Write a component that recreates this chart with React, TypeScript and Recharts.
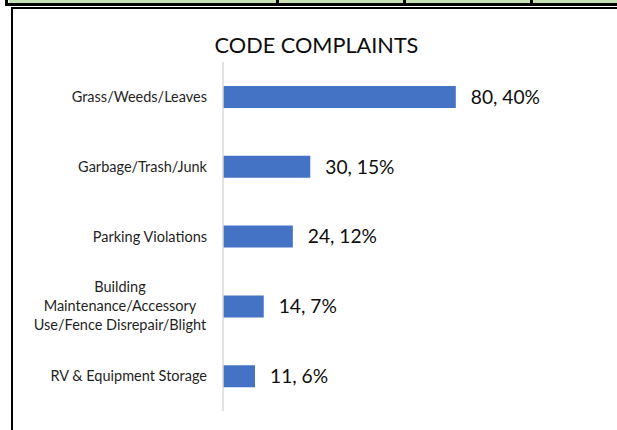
import React from 'react';
import { BarChart, Bar, XAxis, YAxis, LabelList } from 'recharts';

const categories = [
  'Grass/Weeds/Leaves',
  'Garbage/Trash/Junk',
  'Parking Violations',
  'Building\nMaintenance/Accessory\nUse/Fence Disrepair/Blight',
  'RV & Equipment Storage',
];
const counts = [80, 30, 24, 14, 11];
const percents = [40, 15, 12, 7, 6];

const data = categories.map((c, i) => ({ name: c, count: counts[i], pct: percents[i] }));

const FONT = 'Lato, "Open Sans", sans-serif';

const CategoryTick = (props: any) => {
  const { y, payload } = props;
  const lines: string[] = String(payload.value).split('\n');
  const rightX = 207;
  if (lines.length === 1) {
    return (
      <text x={rightX} y={y} dy="0.35em" textAnchor="end" fontFamily={FONT} fontSize={14.5} fill="#1f1f1f">
        {lines[0]}
      </text>
    );
  }
  const lh = 19;
  const start = -((lines.length - 1) * lh) / 2;
  return (
    <text x={rightX - 87} y={y} textAnchor="middle" fontFamily={FONT} fontSize={14.5} fill="#1f1f1f">
      {lines.map((l, i) => (
        <tspan key={i} x={rightX - 87} y={y + start + i * lh} dy="0.35em">
          {l}
        </tspan>
      ))}
    </text>
  );
};

const ValueLabel = (props: any) => {
  const { x, y, width, height, index } = props;
  const d = data[index];
  return (
    <text x={x + width + 15} y={y + height / 2} dy="0.35em" textAnchor="start" fontFamily={FONT} fontSize={19.2} fill="#0d0d0d">
      {`${d.count}, ${d.pct}%`}
    </text>
  );
};

const box = (s: React.CSSProperties) => <div style={{ position: 'absolute', ...s }} />;

export default function App() {
  return (
    <div style={{ position: 'absolute', left: 0, top: 0, width: 617, height: 430, background: '#fff', overflow: 'hidden' }}>
      {box({ left: 9, top: 0, width: 608, height: 3, background: '#c5e0b4' })}
      {box({ left: 5, top: 0, width: 3, height: 6, background: '#000' })}
      {box({ left: 5, top: 3, width: 612, height: 3, background: '#000' })}
      {box({ left: 276, top: 0, width: 3, height: 4, background: '#000' })}
      {box({ left: 403, top: 0, width: 3, height: 4, background: '#000' })}
      {box({ left: 530, top: 0, width: 3, height: 4, background: '#000' })}
      {box({ left: 11, top: 7, width: 606, height: 2, background: '#000' })}
      {box({ left: 11, top: 7, width: 2, height: 423, background: '#000' })}
      <div
        style={{
          position: 'absolute',
          left: 0,
          top: 31,
          width: 633,
          textAlign: 'center',
          fontFamily: FONT,
          fontSize: 21.7,
          color: '#0d0d0d',
          lineHeight: '28px',
        }}
      >
        CODE COMPLAINTS
      </div>
      <div style={{ position: 'absolute', left: 0, top: 0 }}>
        <BarChart
          width={617}
          height={430}
          data={data}
          layout="vertical"
          margin={{ top: 62, right: 103, bottom: 19, left: 0 }}
        >
          <XAxis type="number" domain={[0, 100]} hide />
          <YAxis
            type="category"
            dataKey="name"
            width={223}
            axisLine={{ stroke: '#d9d9d9', strokeWidth: 1.5 }}
            tickLine={false}
            tick={<CategoryTick />}
            interval={0}
          />
          <Bar dataKey="count" fill="#4472c4" barSize={22} isAnimationActive={false}>
            <LabelList dataKey="count" content={<ValueLabel />} />
          </Bar>
        </BarChart>
      </div>
    </div>
  );
}
